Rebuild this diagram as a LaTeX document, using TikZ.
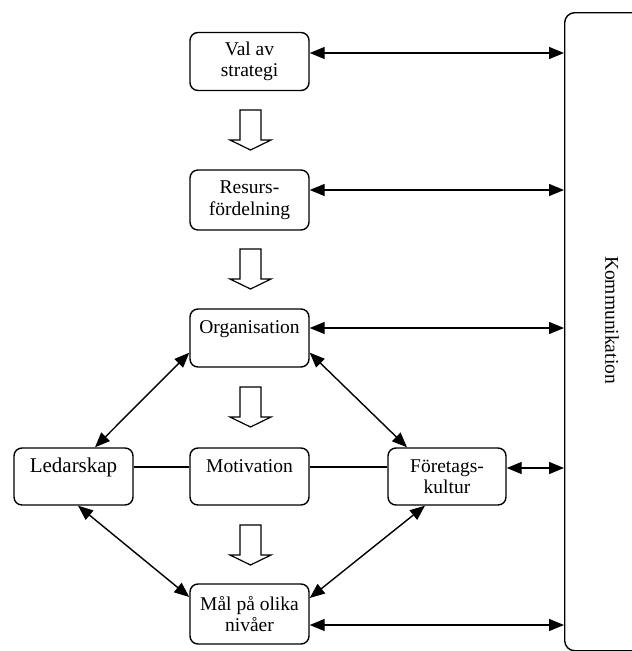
\documentclass[tikz,border=0pt]{standalone}
\usepackage{fontspec}
\setmainfont{Liberation Serif}
\usetikzlibrary{arrows.meta}
\begin{document}
\begin{tikzpicture}[x=1pt,y=-1pt,
  box/.style={draw, rounded corners=8pt, line width=1.4pt, align=center,
    inner sep=0pt, minimum width=119pt, minimum height=58pt,
    font=\fontsize{19.5}{21.5}\selectfont},
  link/.style={line width=1.4pt, {Triangle[length=15pt,width=12pt]}-{Triangle[length=15pt,width=12pt]}},
  plain/.style={line width=1.4pt},
  flow/.style={draw, line width=1.2pt, fill=white, line join=miter}
]
\useasboundingbox (0,0) rectangle (632,651);
\clip (0,0) rectangle (632,651);

% right-hand communication bar
\node[draw, rounded corners=10pt, line width=1.4pt, minimum width=160pt,
  minimum height=638pt, anchor=north west, inner sep=0pt] (komm) at (564,12) {};
\node[rotate=-90, font=\fontsize{19.5}{21.5}\selectfont] (kommtext) at (612,320) {Kommunikation};

% boxes
\node[box] (val) at (249.5,61.5) {Val av\\strategi};
\node[box, minimum height=60pt] (res) at (249.5,200) {Resurs-\\fördelning};
\node[box] (org) at (249.5,338) {Organisation\\\mbox{}};
\node[box, minimum height=57pt, font=\fontsize{21}{23}\selectfont] (led) at (73.5,476.5) {Ledarskap\\\mbox{}};
\node[box, minimum height=57pt] (mot) at (249.5,476.5) {Motivation\\\mbox{}};
\node[box, minimum width=118pt, minimum height=57pt] (fk) at (447,476.5) {Företags-\\kultur};
\node[box, minimum height=60pt] (mal) at (249.5,614) {Mål på olika\\nivåer};

% hollow flow arrows between the stacked boxes
\foreach \t/\n in {110/f1, 249/f2, 387/f3, 525/f4}{
  \draw[flow] (240,\t) -- (261,\t) -- (261,\t+30) -- (271,\t+30)
    -- (250.5,\t+40) -- (230,\t+30) -- (240,\t+30) -- cycle;
}

% links to the communication bar
\draw[link] ([yshift=8.5pt]val.east) -- ([yshift=8.5pt]val.east -| komm.west);
\draw[link] ([yshift=10pt]res.east) -- ([yshift=10pt]res.east -| komm.west);
\draw[link] ([yshift=10pt]org.east) -- ([yshift=10pt]org.east -| komm.west);
\draw[link] ([yshift=8.5pt]fk.east) -- ([yshift=8.5pt]fk.east -| komm.west);
\draw[link] ([yshift=-11pt]mal.east) -- ([yshift=-11pt]mal.east -| komm.west);

% middle row
\draw[plain] ([yshift=9.5pt]led.east) -- ([yshift=9.5pt]mot.west);
\draw[plain] ([yshift=9.5pt]mot.east) -- ([yshift=9.5pt]fk.west);

% diagonal links
\draw[link] ([yshift=15pt]org.south west) -- ([xshift=21.5pt]led.north);
\draw[link] ([yshift=15pt]org.south east) -- ([xshift=-40pt]fk.north);
\draw[link] ([xshift=4.5pt]led.south) -- ([yshift=17pt]mal.west);
\draw[link] ([xshift=-22pt]fk.south) -- ([yshift=16pt]mal.east);
\end{tikzpicture}
\end{document}
